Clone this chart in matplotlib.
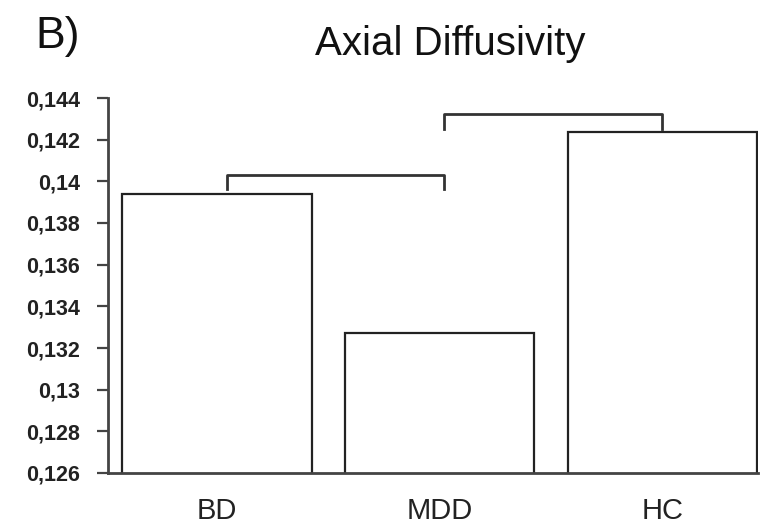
import matplotlib
matplotlib.use("Agg")
import matplotlib.pyplot as plt
from matplotlib.ticker import FixedLocator

plt.rcParams['font.family'] = ['Liberation Sans', 'DejaVu Sans']

# Data
categories = ["BD", "MDD", "HC"]
values = [0.13937, 0.13271, 0.14235]
yticks = [0.126, 0.128, 0.130, 0.132, 0.134, 0.136, 0.138, 0.140, 0.142, 0.144]
ytick_labels = ["0,126", "0,128", "0,13", "0,132", "0,134", "0,136", "0,138", "0,14", "0,142", "0,144"]
# significance brackets: (x start, x end, top y, leg bottom y)
bracket_x0 = [0.045, 1.02]
bracket_x1 = [1.02, 2.0]
bracket_top = [0.14029, 0.14322]
bracket_leg = [0.13962, 0.14252]

fig = plt.figure(figsize=(7.61, 5.26), dpi=100)
ax = fig.add_axes([108/761, 53/526, 650/761, 375/526])

x = list(range(len(categories)))
ax.bar(x, values, width=0.85, color="white", edgecolor="#222222", linewidth=1.6, bottom=0)
ax.set_ylim(0.126, 0.144)
ax.set_xlim(-0.49, 2.43)

ax.yaxis.set_major_locator(FixedLocator(yticks))
ax.set_yticklabels(ytick_labels, fontsize=15.5, fontweight="bold", color="#222222")
ax.tick_params(axis="y", direction="out", length=8, width=1.6, color="#444444", pad=12)
ax.set_xticks(x)
ax.set_xticklabels(categories, fontsize=21, color="#222222")
ax.tick_params(axis="x", length=0, pad=17.5)

for s in ["top", "right"]:
    ax.spines[s].set_visible(False)
for s in ["left", "bottom"]:
    ax.spines[s].set_linewidth(2.0)
    ax.spines[s].set_color("#444444")

for x0, x1, yt, yl in zip(bracket_x0, bracket_x1, bracket_top, bracket_leg):
    ax.plot([x0, x0, x1, x1], [yl, yt, yt, yl], color="#333333", linewidth=2.0,
            solid_joinstyle="round", clip_on=False)

fig.text(35/761, 1 - 48/526, "B)", fontsize=32, color="#111111", ha="left", va="baseline")
fig.text(450/761, 1 - 55/526, "Axial Diffusivity", fontsize=29, color="#111111",
         ha="center", va="baseline")

fig.savefig("out.png", dpi=100, facecolor="white")
